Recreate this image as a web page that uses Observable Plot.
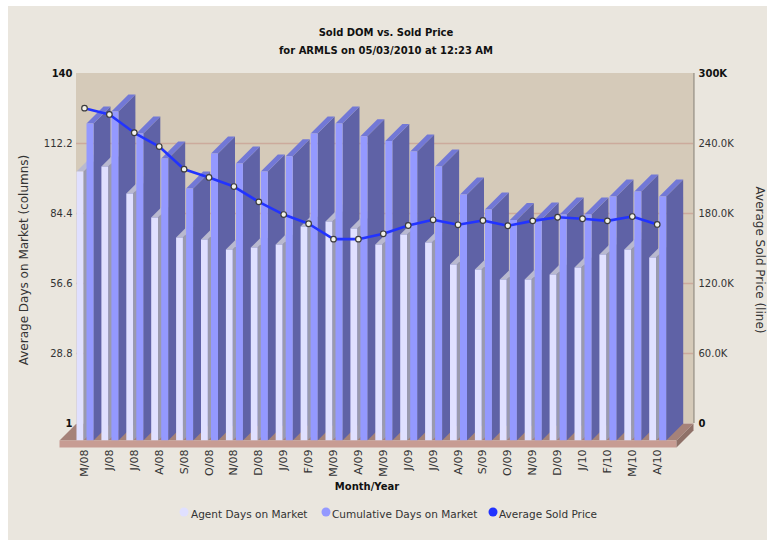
<!DOCTYPE html>
<html><head><meta charset="utf-8">
<script src="https://cdn.jsdelivr.net/npm/d3@7"></script>
<script src="https://cdn.jsdelivr.net/npm/@observablehq/plot@0.6"></script>
<style>
html,body{margin:0;padding:0;background:#fff;width:767px;height:540px;overflow:hidden}
#panel{position:absolute;left:7.5px;top:6px;width:760px;height:534px;background:#eae6de}
#chart{position:absolute;left:0;top:0}
svg{background:transparent!important;overflow:visible}
.t{position:absolute;font-family:"DejaVu Sans",sans-serif;color:#222;white-space:nowrap;line-height:1}
.b{font-weight:bold;color:#111;font-size:10px}
.c{transform:translate(-50%,-50%)}
.l{font-size:10.5px;color:#333;transform:translateY(-50%)}
.d{position:absolute;width:9px;height:9px;border-radius:50%;transform:translate(-50%,-50%)}
</style></head><body>
<div id="panel"></div><div id="chart"></div>
<div class="t b c" style="left:386px;top:33px">Sold DOM vs. Sold Price</div>
<div class="t b c" style="left:386px;top:51px">for ARMLS on 05/03/2010 at 12:23 AM</div>
<div class="t b c" style="left:367px;top:487px">Month/Year</div>
<div class="t c" style="left:24px;top:260px;font-size:12px;color:#333;transform:translate(-50%,-50%) rotate(-90deg)">Average Days on Market (columns)</div>
<div class="t c" style="left:760px;top:260px;font-size:12px;color:#333;transform:translate(-50%,-50%) rotate(90deg)">Average Sold Price (line)</div>
<div class="d" style="left:184px;top:512px;background:#e0e0ff"></div>
<div class="t l" style="left:191px;top:514px">Agent Days on Market</div>
<div class="d" style="left:326px;top:512px;background:#9499ff"></div>
<div class="t l" style="left:332px;top:514px">Cumulative Days on Market</div>
<div class="d" style="left:493px;top:512px;background:#2233ff"></div>
<div class="t l" style="left:499px;top:514px">Average Sold Price</div>
<script>
const months = ["M/08","J/08","J/08","A/08","S/08","O/08","N/08","D/08","J/09","F/09","M/09","A/09","M/09","J/09","J/09","A/09","S/09","O/09","N/09","D/09","J/10","F/10","M/10","A/10"];
const agentDays = [107.8,109.8,99.1,89.6,81.6,80.8,76.9,77.6,78.8,86,88,85.2,78.8,82.8,79.6,70.9,68.9,64.9,64.9,66.9,69.7,74.9,76.9,73.7];
const cumulativeDays = [126.9,131.7,122.9,113,101.1,115,111,107.8,113.9,122.9,126.9,121.8,119.9,115.8,109.8,98.7,92.7,88.6,88.8,90.8,90.8,97.9,99.9,97.9];
const soldPriceK = [270.3,264.9,249.2,237.4,218,210.9,203.1,190,179.1,171.2,158,158,162.6,169.7,174.6,170.3,174,169.5,173.7,176.8,175.5,173.7,177.4,170.6];
const leftTicks = [112.2,84.4,56.6,28.8];
const leftEnds = [140,1];
const rightTickK = [240,180,120,60];
const rightEndK = [300,0];

// Two value axes share one scale; prices convert to the days axis.
const yMin = 1, yMax = 140, priceMax = 300;
const priceToY = p => yMin + p / priceMax * (yMax - yMin);
const yToPrice = y => (y - yMin) / (yMax - yMin) * priceMax;

// 3D projection in scale units: the front plane is offset from the back wall.
const depthX = 0.6827, depthY = 6.75, slot = 24.9;
const frontX = i => i - depthX;
const frontY = v => v - depthY;
const agentW = 6.8 / slot, cumOff = 10 / slot, cumW = 7 / slot, lineOff = 8 / slot;
const floorH = 2.78, backR = 24.096;
const frontR = backR - depthX, xL = frontX(0), fb = frontY(yMin);

const polys = [];
let id = 0;
function poly(color, pts){ id++; pts.forEach(([x,y]) => polys.push({id, color, x, y})); }
function column(x0, w, v, cf, cs, ct){
  const x1 = x0 + w, y = frontY(v), b = frontY(yMin);
  poly(cs, [[x1,b],[x1,y],[x1+depthX,y+depthY],[x1+depthX,b+depthY]]);
  poly(ct, [[x0,y],[x1,y],[x1+depthX,y+depthY],[x0+depthX,y+depthY]]);
  poly(cf, [[x0,b],[x1,b],[x1,y],[x0,y]]);
}
poly("#a58279", [[xL-depthX,fb],[xL,yMin],[backR,yMin],[frontR,fb]]);
months.forEach((m,i) => {
  column(frontX(i), agentW, agentDays[i], "#e0e0ff", "#9a9aae", "#b9b9cf");
  column(frontX(i)+cumOff, cumW, cumulativeDays[i], "#9499ff", "#5f62a6", "#7278d6");
});
poly("#c79c93", [[xL-depthX,fb],[frontR,fb],[frontR,fb-floorH],[xL-depthX,fb-floorH]]);
poly("#8f7168", [[frontR,fb],[backR,yMin],[backR,yMin-floorH],[frontR,fb-floorH]]);

const pricePts = soldPriceK.map((p,i) => ({x: frontX(i)+lineOff, y: priceToY(p)}));
const tickPos = months.map((m,i) => frontX(i)+lineOff);

const plot = Plot.plot({
  width:767, height:540, marginTop:73, marginBottom:117, marginLeft:76, marginRight:74,
  style:{fontFamily:"'DejaVu Sans',sans-serif", fontSize:"10px", color:"#333", background:"transparent"},
  x:{domain:[-depthX, backR], axis:null},
  y:{domain:[yMin,yMax], axis:null},
  color:{type:"identity"},
  marks:[
    Plot.rect([0],{x1:-depthX,x2:backR,y1:yMin,y2:yMax,fill:"#d5cab9"}),
    Plot.rect([0],{x1:backR,x2:backR+0.07,y1:yMin,y2:yMax,fill:"#aaa397"}),
    Plot.ruleY(leftTicks,{stroke:"#ccaa9c",strokeWidth:1.5}),
    Plot.line(polys,{x:"x",y:"y",z:"id",fill:"color",stroke:"none"}),
    Plot.line(pricePts,{x:"x",y:"y",stroke:"#2233ff",strokeWidth:2.6}),
    Plot.dot(pricePts,{x:"x",y:"y",r:2.8,fill:"#f2f2ea",stroke:"#3c3c3c",strokeWidth:1.2}),
    Plot.axisY({anchor:"left",ticks:leftTicks,tickSize:0,tickPadding:4,label:null,tickFormat:d=>d.toFixed(1),fill:"#333"}),
    Plot.axisY({anchor:"left",ticks:leftEnds,tickSize:0,tickPadding:4,label:null,tickFormat:d=>String(d),fontWeight:"bold",fill:"#111"}),
    Plot.axisY({anchor:"right",ticks:rightTickK.map(priceToY),tickSize:0,tickPadding:5,label:null,tickFormat:d=>yToPrice(d).toFixed(1)+"K",fill:"#333"}),
    Plot.axisY({anchor:"right",ticks:rightEndK.map(priceToY),tickSize:0,tickPadding:5,label:null,tickFormat:d=>{const p=Math.round(yToPrice(d));return p?p+"K":"0"},fontWeight:"bold",fill:"#111"}),
    Plot.axisX({anchor:"bottom",ticks:tickPos,tickSize:0,tickPadding:26,tickRotate:-90,label:null,fontSize:11,fill:"#333",
      tickFormat:d=>months[tickPos.findIndex(t=>Math.abs(t-d)<1e-6)]})
  ]
});
document.getElementById("chart").appendChild(plot);
</script></body></html>
